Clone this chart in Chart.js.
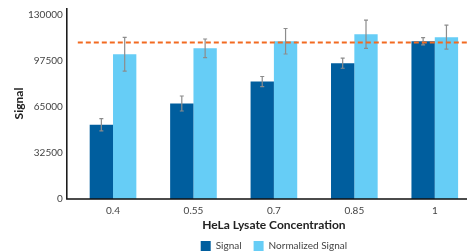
<!DOCTYPE html>
<html>
<head>
<meta charset="utf-8">
<script src="https://cdn.jsdelivr.net/npm/chart.js@4"></script>
<style>
  html, body { margin: 0; padding: 0; background: #fff; overflow: hidden; }
  /* the original plot runs a few pixels past the right edge of the image */
  #wrap { width: 475px; height: 252px; }
</style>
</head>
<body>
<div id="wrap"><canvas id="signalChart"></canvas></div>
<script>
// data
const concentrations = ["0.4", "0.55", "0.7", "0.85", "1"];
const signal = [52500, 67500, 83000, 96000, 111500];
const signalErr = [4300, 5300, 3600, 3600, 2500];
const normalized = [102300, 106500, 111500, 116500, 114400];
const normalizedErr = [11900, 6600, 9000, 10000, 8500];
const referenceLevel = 110600;
const yTicks = [0, 32500, 65000, 97500, 130000];

const axisGap = 6; // axis line sits a little left of the first category

// error bars drawn through the scales
const errorBars = {
  id: "errorBars",
  afterDatasetsDraw(chart) {
    const { ctx } = chart;
    const y = chart.scales.y;
    const errs = [signalErr, normalizedErr];
    ctx.save();
    ctx.strokeStyle = "#8c8c8c";
    ctx.lineWidth = 1.2;
    chart.data.datasets.forEach((ds, i) => {
      chart.getDatasetMeta(i).data.forEach((bar, j) => {
        const x = bar.x;
        const top = y.getPixelForValue(ds.data[j] + errs[i][j]);
        const bot = y.getPixelForValue(ds.data[j] - errs[i][j]);
        ctx.beginPath();
        ctx.moveTo(x, top); ctx.lineTo(x, bot);
        ctx.moveTo(x - 2, top); ctx.lineTo(x + 2, top);
        ctx.moveTo(x - 2, bot); ctx.lineTo(x + 2, bot);
        ctx.stroke();
      });
    });
    ctx.restore();
  }
};

// dashed orange reference line
const refLine = {
  id: "refLine",
  afterDatasetsDraw(chart) {
    const { ctx, chartArea } = chart;
    const yPix = chart.scales.y.getPixelForValue(referenceLevel);
    ctx.save();
    ctx.strokeStyle = "#f26a21";
    ctx.lineWidth = 2;
    ctx.setLineDash([5, 3]);
    ctx.beginPath();
    ctx.moveTo(chartArea.left + 5, yPix);
    ctx.lineTo(chart.width, yPix);
    ctx.stroke();
    ctx.restore();
  }
};

// the two black axis lines
const axisLines = {
  id: "axisLines",
  afterDraw(chart) {
    const { ctx, chartArea } = chart;
    const x0 = chartArea.left - axisGap;
    ctx.save();
    ctx.strokeStyle = "#111";
    ctx.lineWidth = 1.5;
    ctx.beginPath();
    ctx.moveTo(x0, chartArea.top);
    ctx.lineTo(x0, chartArea.bottom);
    ctx.lineTo(chart.width, chartArea.bottom);
    ctx.stroke();
    ctx.restore();
  }
};

const ctx = document.getElementById("signalChart");
new Chart(ctx, {
  type: "bar",
  data: {
    labels: concentrations,
    datasets: [
      { label: "Signal", data: signal, backgroundColor: "#005e9e" },
      { label: "Normalized Signal", data: normalized, backgroundColor: "#66cdf6" }
    ]
  },
  options: {
    responsive: true,
    maintainAspectRatio: false,
    animation: false,
    layout: { padding: { top: 8, right: 0, left: 0, bottom: 0 } },
    datasets: { bar: { categoryPercentage: 0.58, barPercentage: 1 } },
    plugins: {
      legend: {
        position: "bottom",
        fullSize: false,
        maxHeight: 23,
        labels: {
          boxWidth: 10, boxHeight: 10, padding: 12,
          color: "#444", font: { family: "Lato", size: 10 }
        }
      },
      tooltip: { enabled: false }
    },
    scales: {
      x: {
        grid: { display: false, drawTicks: false },
        border: { display: false },
        ticks: { color: "#444", font: { family: "Lato", size: 10 }, padding: 6 },
        title: {
          display: true, text: "HeLa Lysate Concentration",
          color: "#222", font: { family: "Lato", size: 12, weight: "bold", lineHeight: 1 },
          padding: { top: -4, bottom: -2 }
        }
      },
      y: {
        min: 0, max: 135000,
        grid: { display: false, drawTicks: false },
        border: { display: false },
        afterBuildTicks(axis) { axis.ticks = yTicks.map(v => ({ value: v })); },
        afterFit(axis) { axis.paddingTop = 0; },
        ticks: {
          color: "#444", font: { family: "Lato", size: 10 }, padding: 4 + axisGap,
          callback: v => String(v)
        },
        title: {
          display: true, text: "Signal",
          color: "#222", font: { family: "Lato", size: 12, weight: "bold", lineHeight: 1 },
          padding: { top: 13, bottom: -7 }
        }
      }
    }
  },
  plugins: [errorBars, refLine, axisLines]
});
</script>
</body>
</html>
